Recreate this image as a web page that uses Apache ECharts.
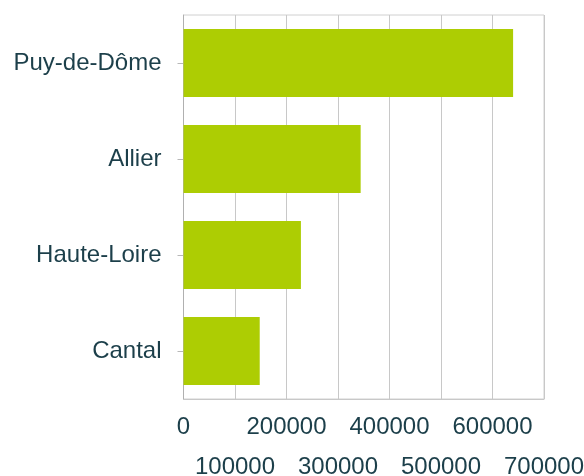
<!DOCTYPE html>
<html><head><meta charset="utf-8">
<script src="https://cdn.jsdelivr.net/npm/echarts@6/dist/echarts.min.js"></script>
<style>html,body{margin:0;padding:0;background:#fff}#c{width:584px;height:476px}</style>
</head><body><div id="c"></div>
<script>
const categories = ['Puy-de-Dôme', 'Allier', 'Haute-Loire', 'Cantal'];
const population = [640000, 344000, 228000, 148000];
const xTicksRow1 = [0, 200000, 400000, 600000];
const xTicksRow2 = [100000, 300000, 500000, 700000];

const labelFont = { fontFamily: 'Liberation Sans', fontSize: 24, color: '#1c3f4a', lineHeight: 40,
                    formatter: function (v) { return String(v); } };
const chart = echarts.init(document.getElementById('c'));
chart.setOption({
  animation: false,
  grid: { left: 183.5, right: 40, top: 15, bottom: 77, show: true, borderColor: '#d0d0d0', borderWidth: 1,
          containLabel: false, outerBoundsMode: 'none' },
  xAxis: [{
    type: 'value', min: 0, max: 700000, interval: 100000, position: 'bottom',
    axisLine: { show: true, lineStyle: { color: '#c8c8c8' } },
    axisTick: { show: false },
    splitLine: { lineStyle: { color: '#c8c8c8' } },
    axisLabel: Object.assign({ margin: 8, customValues: xTicksRow1, hideOverlap: false }, labelFont)
  }, {
    type: 'value', min: 0, max: 700000, interval: 100000, position: 'bottom', offset: 0,
    axisLine: { show: false }, axisTick: { show: false }, splitLine: { show: false },
    axisLabel: Object.assign({ margin: 48, customValues: xTicksRow2, hideOverlap: false }, labelFont)
  }],
  yAxis: {
    type: 'category', data: categories, inverse: true,
    axisLine: { show: true, lineStyle: { color: '#b0b0b0' } },
    axisTick: { show: true, length: 6, alignWithLabel: true, lineStyle: { color: '#b8b8b8' } },
    axisLabel: { fontFamily: 'Liberation Sans', fontSize: 24, color: '#1c3f4a', margin: 22 }
  },
  series: [{
    type: 'bar', data: population, barCategoryGap: '29%', xAxisIndex: 0,
    itemStyle: { color: '#adcd03' }
  }]
});
</script></body></html>
